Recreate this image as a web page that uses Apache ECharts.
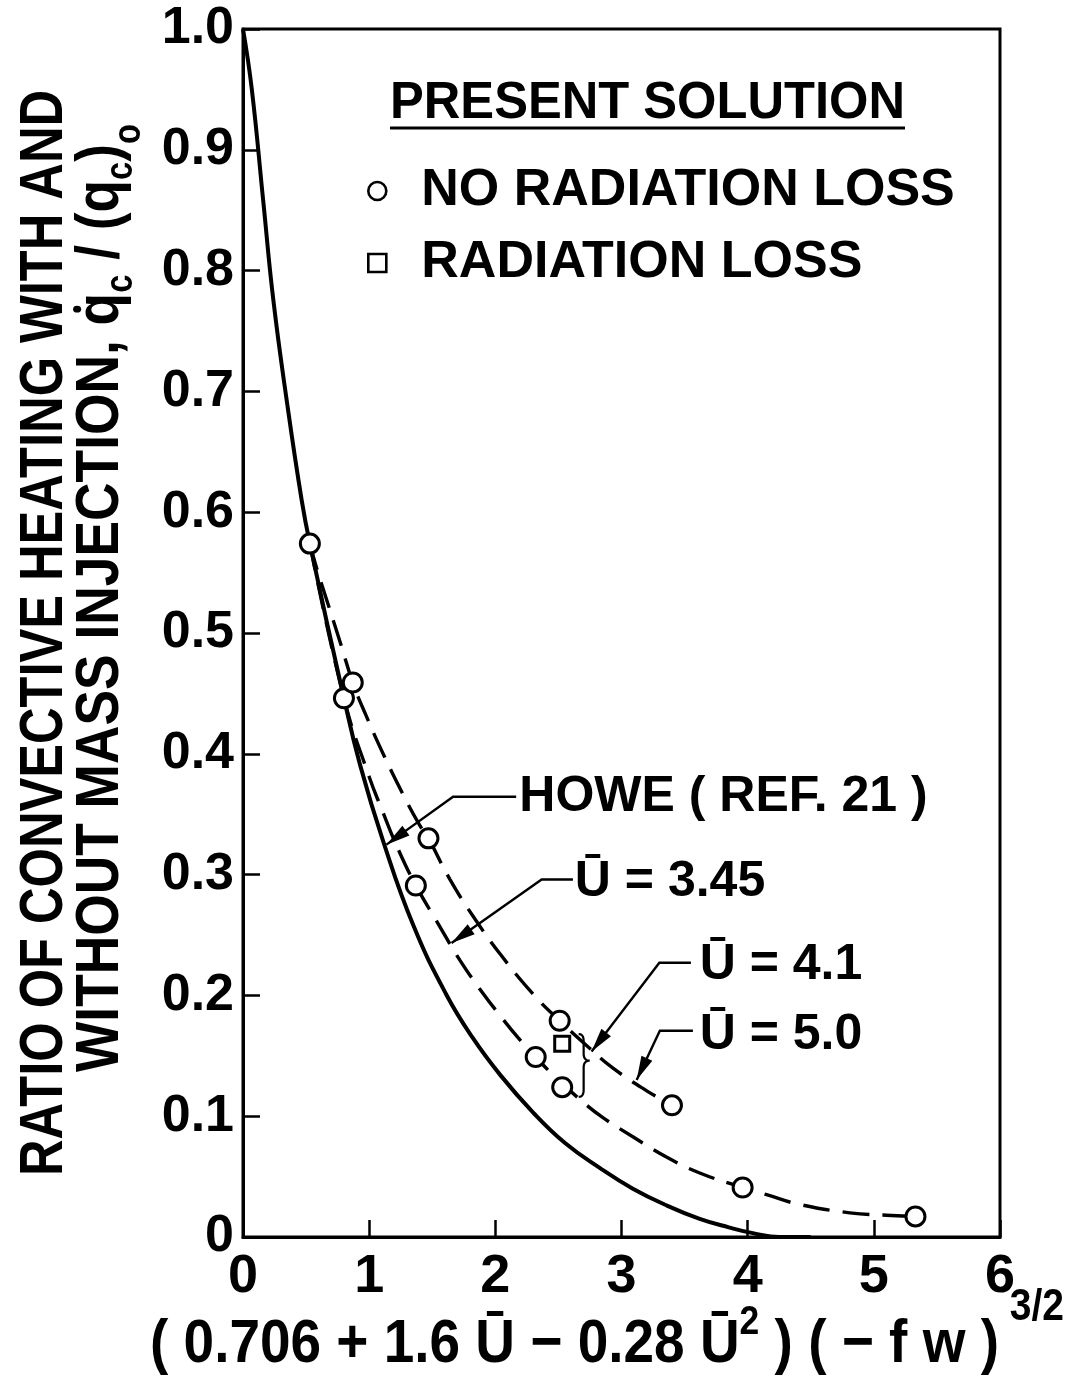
<!DOCTYPE html>
<html>
<head>
<meta charset="utf-8">
<script src="https://cdn.jsdelivr.net/npm/echarts@6.0.0/dist/echarts.min.js"></script>
<style>
html,body{margin:0;padding:0;background:#fff;}
#chart{width:1084px;height:1381px;}
</style>
</head>
<body>
<div id="chart"></div>
<script>
// ---------------- data ----------------
const xTicks = [0, 1, 2, 3, 4, 5, 6];
const yTickLabels = ['0', '0.1', '0.2', '0.3', '0.4', '0.5', '0.6', '0.7', '0.8', '0.9', '1.0'];

// Howe (Ref. 21) – solid curve
const howeCurve = [
  [0, 1.0], [0.07, 0.95], [0.16, 0.858], [0.24, 0.776], [0.35, 0.69], [0.465, 0.61],
  [0.53, 0.574], [0.80, 0.446], [0.93, 0.390], [1.11, 0.328], [1.35, 0.258], [1.61, 0.201],
  [1.82, 0.165], [2.04, 0.134], [2.30, 0.103], [2.55, 0.078], [2.83, 0.057], [3.09, 0.040],
  [3.36, 0.026], [3.62, 0.015], [3.85, 0.008], [4.05, 0.003], [4.25, 0.0], [4.5, 0.0]
];
// U = 3.45 – lower dashed curve
const curveU345 = [
  [0.53, 0.574], [0.80, 0.446], [1.0, 0.381], [1.10, 0.354], [1.23, 0.321], [1.37, 0.291],
  [1.56, 0.257], [1.72, 0.229], [1.90, 0.202], [2.04, 0.183], [2.18, 0.165], [2.32, 0.149],
  [2.45, 0.135], [2.68, 0.113], [2.85, 0.099], [3.09, 0.083], [3.36, 0.066], [3.62, 0.053],
  [3.96, 0.041], [4.15, 0.035], [4.41, 0.027], [4.81, 0.020], [5.10, 0.018], [5.33, 0.017]
];
// U = 5.0 – upper dashed curve
const curveU50 = [
  [0.53, 0.574], [0.58, 0.555], [0.68, 0.522], [0.78, 0.489], [0.87, 0.459], [0.97, 0.433],
  [1.12, 0.398], [1.28, 0.364], [1.40, 0.341], [1.47, 0.330], [1.64, 0.296], [1.84, 0.263],
  [2.04, 0.234], [2.30, 0.201], [2.51, 0.179], [2.75, 0.156], [2.93, 0.140], [3.20, 0.121],
  [3.40, 0.109]
];
// Present solution points
const noRadiationLoss = [
  [0.53, 0.574], [0.80, 0.446], [0.87, 0.459], [1.47, 0.330], [1.37, 0.291], [2.51, 0.179],
  [2.32, 0.149], [2.53, 0.124], [3.40, 0.109], [3.96, 0.041], [5.33, 0.017]
];
const radiationLoss = [[2.53, 0.160]];

// annotations (data coordinates)
const annotationLabels = ['HOWE ( REF. 21 )', '\u016A = 3.45', '\u016A = 4.1', '\u016A = 5.0'];
const annotationTextAt = [[2.19, 0.3645], [2.63, 0.294], [3.62, 0.2255], [3.62, 0.1675]];
const annotationLeaders = [
  [[2.165, 0.3645], [1.665, 0.3645], [1.137, 0.3248]],
  [[2.615, 0.296], [2.367, 0.296], [1.653, 0.2433]],
  [[3.55, 0.227], [3.30, 0.227], [2.763, 0.1535]],
  [[3.566, 0.1707], [3.304, 0.1707], [3.12, 0.130]]
];
const braceAt = [2.70, 0.168, 0.146, 0.116]; // x, top, cusp, bottom

// ---------------- rendering ----------------
const FONT = '"Liberation Sans", Arial, Helvetica, sans-serif';
const chart = echarts.init(document.getElementById('chart'), null, { renderer: 'canvas' });

const mctx = document.createElement('canvas').getContext('2d');
function measure(t, s, w) { mctx.font = (w || 'bold') + ' ' + s + 'px ' + FONT; return mctx.measureText(t).width; }

const dashed = { type: [27, 13], width: 3.4, color: '#000' };
const markerStyle = { color: '#fff', borderColor: '#000', borderWidth: 3, opacity: 1 };

const option = {
  animation: false,
  backgroundColor: '#fff',
  grid: { left: 243, top: 29, right: 84, bottom: 144, show: true, borderColor: '#000', borderWidth: 3, backgroundColor: 'transparent' },
  xAxis: {
    type: 'value', min: 0, max: 6, interval: 1,
    axisLine: { show: true, lineStyle: { color: '#000', width: 3 } },
    axisTick: { show: true, inside: true, length: 17, lineStyle: { color: '#000', width: 2.5 } },
    axisLabel: { show: true, fontSize: 54, fontFamily: FONT, fontWeight: 'bold', color: '#000', margin: 13,
      formatter: v => String(xTicks[Math.round(v)]) },
    splitLine: { show: false }
  },
  yAxis: {
    type: 'value', min: 0, max: 1, interval: 0.1,
    axisLine: { show: true, lineStyle: { color: '#000', width: 3 } },
    axisTick: { show: true, inside: true, length: 17, lineStyle: { color: '#000', width: 2.5 } },
    axisLabel: { show: true, fontSize: 52, fontFamily: FONT, fontWeight: 'bold', color: '#000', margin: 9,
      formatter: v => yTickLabels[Math.round(v * 10)] },
    splitLine: { show: false }
  },
  legend: {
    data: ['NO RADIATION LOSS', 'RADIATION LOSS'],
    orient: 'vertical', left: 362, top: 150, itemGap: 0,
    itemWidth: 18, itemHeight: 18, selectedMode: false,
    itemStyle: { color: '#fff', borderColor: '#000', borderWidth: 2.6, opacity: 1 },
    textStyle: { fontSize: 52, fontFamily: FONT, fontWeight: 'bold', color: '#000', lineHeight: 72, padding: [0, 0, 0, 30] }
  },
  series: [
    { type: 'line', name: 'HOWE (REF. 21)', data: howeCurve, smooth: 0.45, showSymbol: false, z: 2,
      lineStyle: { color: '#000', width: 4 } },
    { type: 'line', name: 'U = 3.45', data: curveU345, smooth: 0.45, showSymbol: false, z: 2, lineStyle: dashed },
    { type: 'line', name: 'U = 5.0', data: curveU50, smooth: 0.45, showSymbol: false, z: 2, lineStyle: dashed },
    { type: 'scatter', name: 'NO RADIATION LOSS', data: noRadiationLoss, symbol: 'circle', symbolSize: 19, z: 5,
      itemStyle: markerStyle },
    { type: 'scatter', name: 'RADIATION LOSS', data: radiationLoss, symbol: 'rect', symbolSize: 15, z: 5,
      itemStyle: markerStyle }
  ]
};
chart.setOption(option);

function px(p) { return chart.convertToPixel({ gridIndex: 0 }, p); }

// text laid out from pieces; local origin at baseline start
function textGroup(pieces, x, y, rotation, targetWidth, weight) {
  weight = weight || 'bold';
  let cx = 0; const children = [];
  pieces.forEach(p => {
    const w = measure(p.t, p.s, weight);
    if (p.dot) children.push({ type: 'circle', shape: { cx: cx + w * 0.5, cy: -p.s * 0.74, r: p.s * 0.065 }, style: { fill: '#000' } });
    children.push({ type: 'text', x: cx, y: (p.dy || 0) - 0.35 * p.s,
      style: { text: p.t, fontSize: p.s, fontFamily: FONT, fontWeight: weight, fill: '#000',
        align: 'left', verticalAlign: 'middle', textAlign: 'left', textVerticalAlign: 'middle' } });
    cx += w;
  });
  const sx = targetWidth ? targetWidth / cx : 1;
  return { type: 'group', x: x, y: y, rotation: rotation || 0, scaleX: sx, scaleY: 1, children: children, z: 10 };
}

const graphics = [];
// legend header
graphics.push(textGroup([{ t: 'PRESENT SOLUTION', s: 51 }], 390, 103 + 0.36 * 51, 0, 515));
graphics.push({ type: 'line', shape: { x1: 390, y1: 128, x2: 905, y2: 128 }, style: { stroke: '#000', lineWidth: 3 }, z: 10 });

// y-axis title (two rotated lines)
graphics.push(textGroup([{ t: 'RATIO OF CONVECTIVE HEATING WITH AND', s: 62 }], 67, 1176, Math.PI / 2, 1086));
graphics.push(textGroup([
  { t: 'WITHOUT MASS INJECTION, ', s: 62 },
  { t: 'q', s: 62, dot: true },
  { t: 'c', s: 38, dy: 12 },
  { t: ' / (', s: 62 },
  { t: 'q', s: 62 },
  { t: 'c', s: 38, dy: 12 },
  { t: ')', s: 62 },
  { t: 'o', s: 38, dy: 20 }
], 123, 1072, Math.PI / 2, 948));

// x-axis title
graphics.push(textGroup([
  { t: '( 0.706 + 1.6 \u016A \u2212 0.28 \u016A', s: 62 },
  { t: '2', s: 40, dy: -30 },
  { t: ' ) ( \u2212 f w )', s: 62 },
  { t: ' 3/2', s: 44, dy: -44 }
], 150, 1367, 0, 914));

// annotations with leaders and arrowheads
annotationLabels.forEach((lab, i) => {
  const tp = px(annotationTextAt[i]);
  graphics.push(textGroup([{ t: lab, s: 50 }], tp[0], tp[1] + 0.36 * 50, 0, null));
  const pts = annotationLeaders[i].map(px);
  graphics.push({ type: 'polyline', shape: { points: pts }, style: { stroke: '#000', lineWidth: 2.4, fill: null }, z: 10 });
  const a = pts[pts.length - 2], b = pts[pts.length - 1];
  const dx = b[0] - a[0], dy = b[1] - a[1], L = Math.hypot(dx, dy);
  const ux = dx / L, uy = dy / L, nx = -uy, ny = ux, len = 24, hw = 6;
  graphics.push({ type: 'polygon', shape: { points: [
    b, [b[0] - ux * len + nx * hw, b[1] - uy * len + ny * hw], [b[0] - ux * len - nx * hw, b[1] - uy * len - ny * hw]
  ] }, style: { fill: '#000' }, z: 10 });
});

// brace for the U = 4.1 group (drawn as sampled quadratic curves)
(function () {
  const t = px([braceAt[0], braceAt[1]]), m = px([braceAt[0], braceAt[2]]), bt = px([braceAt[0], braceAt[3]]);
  const x0 = t[0];
  function quad(p0, p1, p2, out) {
    for (let k = 0; k <= 8; k++) {
      const s = k / 8, q = 1 - s;
      out.push([q * q * p0[0] + 2 * q * s * p1[0] + s * s * p2[0], q * q * p0[1] + 2 * q * s * p1[1] + s * s * p2[1]]);
    }
  }
  const pts = [];
  quad([x0 - 5, t[1]], [x0, t[1]], [x0, t[1] + 7], pts);
  quad([x0, m[1] - 7], [x0, m[1]], [x0 + 6, m[1]], pts);
  quad([x0 + 6, m[1]], [x0, m[1]], [x0, m[1] + 7], pts);
  quad([x0, bt[1] - 7], [x0, bt[1]], [x0 - 5, bt[1]], pts);
  graphics.push({ type: 'polyline', shape: { points: pts }, style: { stroke: '#000', lineWidth: 2.2, fill: null }, z: 10 });
})();

chart.setOption({ graphic: graphics });
</script>
</body>
</html>
